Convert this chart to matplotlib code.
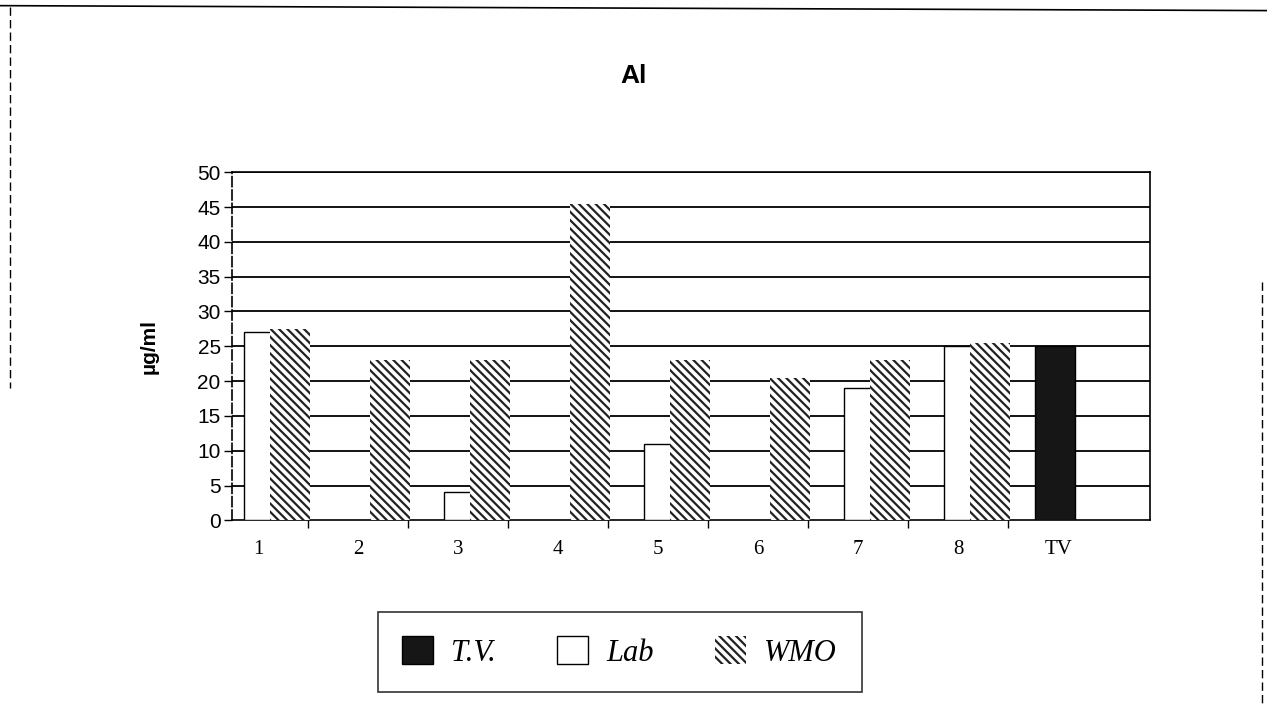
import numpy as np
import matplotlib
matplotlib.use('Agg')
import matplotlib.pyplot as plt
from matplotlib.lines import Line2D
from matplotlib.patches import Patch

# data
categories = ['1', '2', '3', '4', '5', '6', '7', '8', 'TV']
lab_values = [27, 0, 4, 0, 11, 0, 19, 25, 0]
wmo_values = [27.5, 23, 23, 45.5, 23, 20.5, 23, 25.5, 0]
tv_values = [0, 0, 0, 0, 0, 0, 0, 0, 25]
yticks = [0, 5, 10, 15, 20, 25, 30, 35, 40, 45, 50]

plt.rcParams['font.family'] = ['Liberation Sans', 'DejaVu Sans']
plt.rcParams['hatch.linewidth'] = 1.6

fig = plt.figure(figsize=(12.67, 7.06), dpi=100)
ax = fig.add_axes([0.183, 0.263, 0.725, 0.493])

x = np.arange(len(categories))
# grid first so bars sit on top
for v in yticks[1:]:
    ax.axhline(v, color='black', lw=1.3, zorder=1)

lab_bars = ax.bar(x + 0.0, lab_values, width=0.28, color='white', edgecolor='black',
                  lw=1.0, zorder=3)
wmo_bars = ax.bar(x + 0.32, wmo_values, width=0.4, color='white', edgecolor='#222222',
                  hatch='\\\\\\\\', lw=0, zorder=4)
tv_bars = ax.bar(x - 0.03, tv_values, width=0.4, color='#161616', edgecolor='black',
                 lw=1.0, zorder=4)

# zero-height bars of each series should not show
for bars, vals in [(lab_bars, lab_values), (wmo_bars, wmo_values), (tv_bars, tv_values)]:
    for b, v in zip(bars, vals):
        if v == 0:
            b.set_visible(False)

ax.set_ylim(0, 50)
ax.set_xlim(-0.26, 8.92)
ax.set_yticks(yticks)
ax.set_yticklabels([str(t) for t in yticks], fontsize=15)
ax.tick_params(axis='y', length=6, width=1, direction='out', pad=2)
ax.set_xticks(x)
ax.set_xticklabels(categories, fontsize=15, family='Liberation Serif')
ax.set_xticks(x[:-1] + 0.5, minor=True)
ax.tick_params(axis='x', which='major', length=0, pad=14)
ax.tick_params(axis='x', which='minor', length=6, width=1, direction='out')

for s in ['top', 'right', 'left', 'bottom']:
    ax.spines[s].set_color('black')
    ax.spines[s].set_linewidth(1.2)
ax.spines['left'].set_linestyle((0, (6, 2)))

ax.set_ylabel('µg/ml', fontsize=15, fontweight='bold', labelpad=28)
fig.text(0.5, 0.893, 'Al', ha='center', va='center', fontsize=19, fontweight='bold')

handles = [Patch(facecolor='#161616', edgecolor='black'),
           Patch(facecolor='white', edgecolor='black'),
           Patch(facecolor='white', edgecolor='#222222', hatch='\\\\\\\\', lw=0)]
leg = fig.legend(handles, ['T.V.', 'Lab', 'WMO'], loc='center', ncol=3,
                 bbox_to_anchor=(0.298, 0.013, 0.382, 0.127), mode='expand',
                 borderaxespad=0, frameon=True, fancybox=False, edgecolor='black',
                 prop={'family': 'Liberation Serif', 'style': 'italic', 'size': 22},
                 handlelength=1.0, handleheight=1.0, handletextpad=0.6,
                 borderpad=0.8, columnspacing=2.5)
leg.get_frame().set_linewidth(1.2)

# scanned page border lines
fig.add_artist(Line2D([0, 1], [0.992, 0.985], color='black', lw=1.2))
fig.add_artist(Line2D([0.008, 0.008], [0.99, 0.45], color='black', lw=1, ls=(0, (6, 3))))
fig.add_artist(Line2D([0.996, 0.996], [0.6, 0.0], color='black', lw=1, ls=(0, (6, 3))))

fig.savefig('out.png', dpi=100)
